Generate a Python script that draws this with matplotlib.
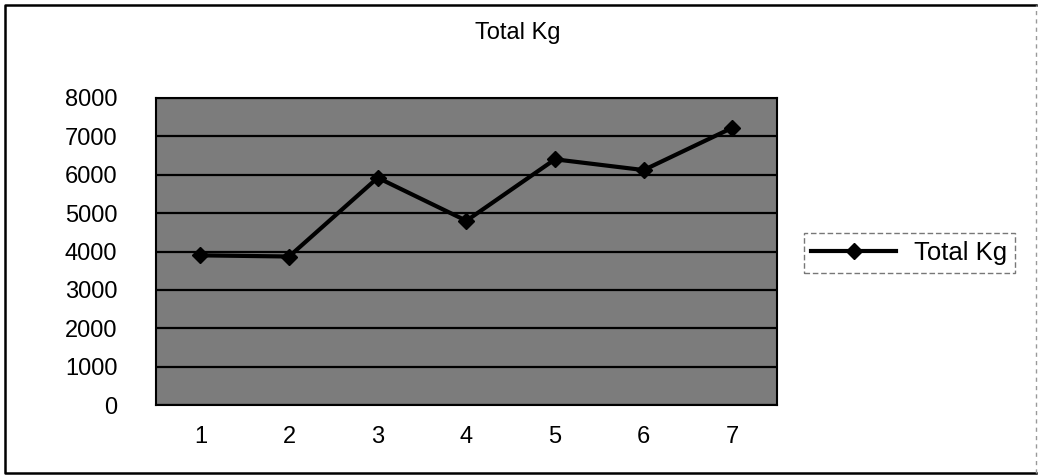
import matplotlib
matplotlib.use('Agg')
import matplotlib.pyplot as plt
from matplotlib.lines import Line2D

# data
categories = [1, 2, 3, 4, 5, 6, 7]
total_kg = [3900, 3870, 5920, 4800, 6400, 6120, 7220]
y_ticks = [0, 1000, 2000, 3000, 4000, 5000, 6000, 7000, 8000]

plt.rcParams['font.family'] = ['Liberation Sans', 'DejaVu Sans']

fig = plt.figure(figsize=(10.41, 4.75), dpi=100)
ax = fig.add_axes([0.150, 0.147, 0.596, 0.647])

# gray plot area like the old excel print
ax.set_facecolor('#7c7c7c')
for s in ax.spines.values():
    s.set_color('black')
    s.set_linewidth(1.5)

ax.set_xlim(0.5, 7.5)
ax.set_ylim(0, 8000)
ax.set_yticks(y_ticks)
ax.set_xticks(categories)
ax.set_xticklabels([str(c) for c in categories])
ax.yaxis.grid(True, color='black', linewidth=1.6)
ax.set_axisbelow(True)
ax.tick_params(axis='both', length=0, labelsize=17)
ax.tick_params(axis='y', pad=28)
ax.tick_params(axis='x', pad=15)

line, = ax.plot(categories, total_kg, color='black', linewidth=3,
                marker='D', markersize=8, label='Total Kg')

fig.text(0.497, 0.930, 'Total Kg', fontsize=17, ha='center', va='center')

leg = fig.legend(handles=[line], loc='center left',
                 bbox_to_anchor=(0.772, 0.467), fontsize=18.5,
                 frameon=True, fancybox=False, handlelength=3.3,
                 handletextpad=0.7, borderpad=0.3, borderaxespad=0)
leg.get_frame().set_edgecolor('#555555')
leg.get_frame().set_linewidth(1.0)
leg.get_frame().set_linestyle((0, (4, 2)))

# outer chart border: solid left/top/bottom, faint right edge (scan)
x0, x1, y0, y1 = 0.005, 0.995, 0.004, 0.990
fig.add_artist(Line2D([x1, x0, x0, x1], [y1, y1, y0, y0],
                      transform=fig.transFigure, color='black', linewidth=1.8))
fig.add_artist(Line2D([x1, x1], [y0, y1], transform=fig.transFigure,
                      color='#999999', linewidth=1.0, linestyle=(0, (3, 3))))

fig.savefig('out.png', dpi=100)
